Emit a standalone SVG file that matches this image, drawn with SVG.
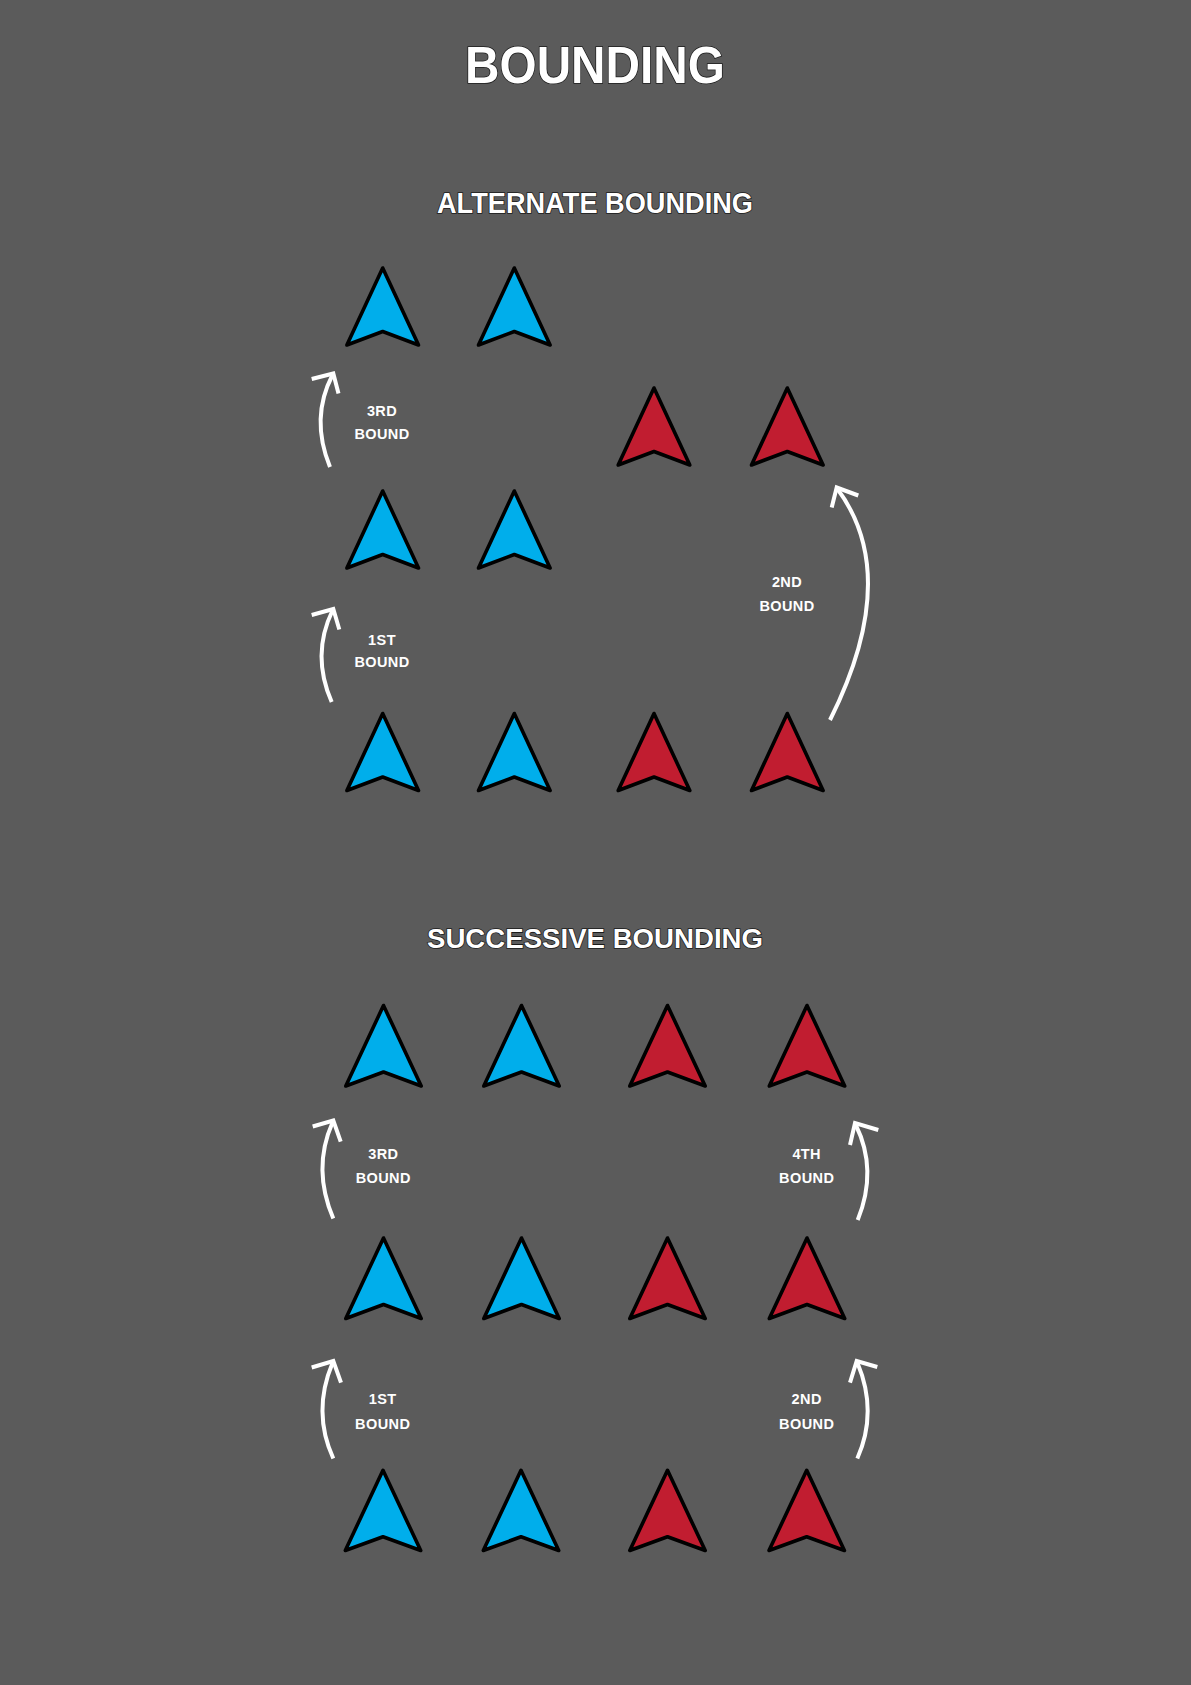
<svg xmlns="http://www.w3.org/2000/svg" width="1191" height="1685" viewBox="0 0 1191 1685">
  <defs>
    <style>
      .title { font-family: "Liberation Sans", Arial, sans-serif; font-weight: bold; fill: #ffffff; stroke: #1a1a1a; stroke-width: 1.6; paint-order: stroke; text-anchor: middle; }
      .label { font-family: "Liberation Sans", Arial, sans-serif; font-weight: bold; font-size: 14.5px; fill: #ffffff; text-anchor: middle; letter-spacing: 0.4px; }
      .blue { fill: #00AEEB; stroke: #000000; stroke-width: 3.6; stroke-linejoin: round; }
      .red { fill: #C11D30; stroke: #000000; stroke-width: 3.6; stroke-linejoin: round; }
      .shaft { fill: none; stroke: #ffffff; stroke-width: 4; stroke-linecap: butt; }
      .head { fill: none; stroke: #ffffff; stroke-width: 4; stroke-linecap: butt; stroke-linejoin: miter; }
    </style>
  </defs>
  <rect x="0" y="0" width="1191" height="1685" fill="#5b5b5b"/>

  <text class="title" x="595" y="83" font-size="52" textLength="260" lengthAdjust="spacingAndGlyphs">BOUNDING</text>
  <text class="title" x="595" y="213" font-size="29" textLength="316" lengthAdjust="spacingAndGlyphs">ALTERNATE BOUNDING</text>
  <text class="title" x="595" y="948" font-size="28" textLength="336" lengthAdjust="spacingAndGlyphs">SUCCESSIVE BOUNDING</text>

  <!-- Alternate bounding nodes -->
  <g id="alt-blue-1a"><polygon class="blue" points="382.7,268 418.5,345 382.7,331.5 346.9,345"/></g>
  <g id="alt-blue-1b"><polygon class="blue" points="514.3,268 550.1,345 514.3,331.5 478.5,345"/></g>
  <g id="alt-red-2a"><polygon class="red" points="654,388 689.8,465 654,451.5 618.2,465"/></g>
  <g id="alt-red-2b"><polygon class="red" points="787.3,388 823.1,465 787.3,451.5 751.5,465"/></g>
  <g id="alt-blue-3a"><polygon class="blue" points="382.7,491 418.5,568 382.7,554.5 346.9,568"/></g>
  <g id="alt-blue-3b"><polygon class="blue" points="514.3,491 550.1,568 514.3,554.5 478.5,568"/></g>
  <g id="alt-blue-4a"><polygon class="blue" points="382.7,713.5 418.5,790.5 382.7,777 346.9,790.5"/></g>
  <g id="alt-blue-4b"><polygon class="blue" points="514.3,713.5 550.1,790.5 514.3,777 478.5,790.5"/></g>
  <g id="alt-red-4c"><polygon class="red" points="654,713.5 689.8,790.5 654,777 618.2,790.5"/></g>
  <g id="alt-red-4d"><polygon class="red" points="787.3,713.5 823.1,790.5 787.3,777 751.5,790.5"/></g>

  <!-- Successive bounding nodes -->
  <g id="suc-blue-1a"><polygon class="blue" points="383.5,1005.5 421.2,1086 383.5,1072 345.8,1086"/></g>
  <g id="suc-blue-1b"><polygon class="blue" points="521.5,1005.5 559.2,1086 521.5,1072 483.8,1086"/></g>
  <g id="suc-red-1c"><polygon class="red" points="667.5,1005.5 705.2,1086 667.5,1072 629.8,1086"/></g>
  <g id="suc-red-1d"><polygon class="red" points="807,1005.5 844.7,1086 807,1072 769.3,1086"/></g>
  <g id="suc-blue-2a"><polygon class="blue" points="383.5,1238 421.2,1318.5 383.5,1304.5 345.8,1318.5"/></g>
  <g id="suc-blue-2b"><polygon class="blue" points="521.5,1238 559.2,1318.5 521.5,1304.5 483.8,1318.5"/></g>
  <g id="suc-red-2c"><polygon class="red" points="667.5,1238 705.2,1318.5 667.5,1304.5 629.8,1318.5"/></g>
  <g id="suc-red-2d"><polygon class="red" points="807,1238 844.7,1318.5 807,1304.5 769.3,1318.5"/></g>
  <g id="suc-blue-3a"><polygon class="blue" points="383,1470.3 420.7,1550.5 383,1536.8 345.3,1550.5"/></g>
  <g id="suc-blue-3b"><polygon class="blue" points="521,1470.3 558.7,1550.5 521,1536.8 483.3,1550.5"/></g>
  <g id="suc-red-3c"><polygon class="red" points="667.5,1470.3 705.2,1550.5 667.5,1536.8 629.8,1550.5"/></g>
  <g id="suc-red-3d"><polygon class="red" points="806.7,1470.3 844.4,1550.5 806.7,1536.8 769,1550.5"/></g>

  <!-- Connectors -->
  <g id="connectors">
    <!-- Alternate: 3rd bound -->
    <path class="shaft" d="M330,467 Q310,418 332.5,375"/>
    <polyline class="head" points="311.7,379 333.3,373.5 338.5,393.5"/>
    <!-- Alternate: 1st bound -->
    <path class="shaft" d="M331.7,702 Q311,655 332.5,610.5"/>
    <polyline class="head" points="311.7,615 333.3,609 339.3,629.5"/>
    <!-- Alternate: 2nd bound -->
    <path class="shaft" d="M830,720 Q902,576 837.5,489"/>
    <polyline class="head" points="858.3,495.5 836.7,487.5 831.7,507.5"/>
    <!-- Successive: 3rd bound -->
    <path class="shaft" d="M333.3,1218.5 Q312,1169 332.5,1122.5"/>
    <polyline class="head" points="312.7,1126.5 333.3,1120.5 340.7,1141.7"/>
    <!-- Successive: 4th bound -->
    <path class="shaft" d="M857.7,1220 Q878,1170 855.8,1125"/>
    <polyline class="head" points="878.3,1130 855,1123 850,1145"/>
    <!-- Successive: 1st bound -->
    <path class="shaft" d="M333.3,1458.5 Q312,1412 332.5,1363"/>
    <polyline class="head" points="311.7,1367.5 333.3,1361 341,1382.7"/>
    <!-- Successive: 2nd bound -->
    <path class="shaft" d="M857.3,1458.5 Q878,1412 857.5,1363"/>
    <polyline class="head" points="877.3,1367 856.7,1361 850,1382.7"/>
  </g>

  <!-- Labels -->
  <g id="labels">
    <text class="label" x="382" y="416"><tspan x="382">3RD</tspan><tspan x="382" y="438.5">BOUND</tspan></text>
    <text class="label" x="382" y="644.5"><tspan x="382">1ST</tspan><tspan x="382" y="667">BOUND</tspan></text>
    <text class="label" x="787" y="587"><tspan x="787">2ND</tspan><tspan x="787" y="610.5">BOUND</tspan></text>
    <text class="label" x="383.3" y="1158.5"><tspan x="383.3">3RD</tspan><tspan x="383.3" y="1182.5">BOUND</tspan></text>
    <text class="label" x="806.7" y="1158.5"><tspan x="806.7">4TH</tspan><tspan x="806.7" y="1182.5">BOUND</tspan></text>
    <text class="label" x="382.7" y="1404"><tspan x="382.7">1ST</tspan><tspan x="382.7" y="1428.5">BOUND</tspan></text>
    <text class="label" x="806.7" y="1404"><tspan x="806.7">2ND</tspan><tspan x="806.7" y="1428.5">BOUND</tspan></text>
  </g>
</svg>
